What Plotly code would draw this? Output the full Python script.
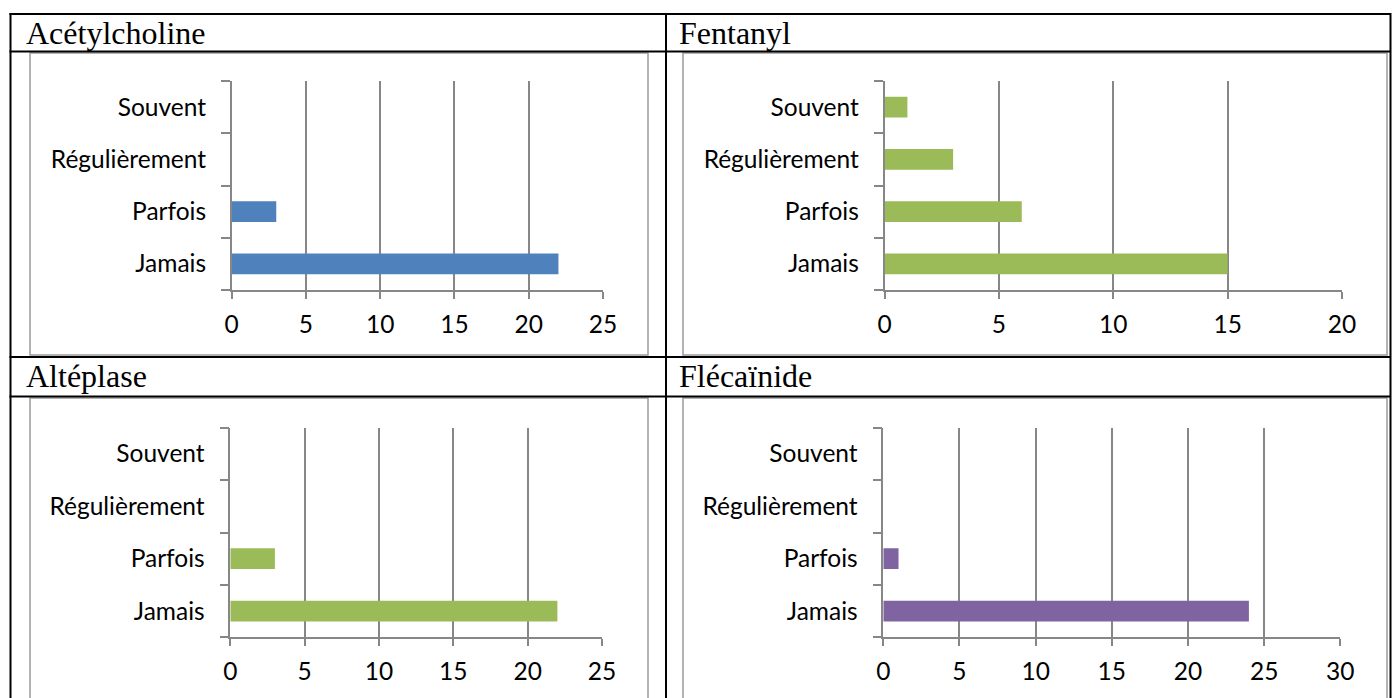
import plotly.graph_objects as go

# ---- data ----
categories = ["Jamais", "Parfois", "Régulièrement", "Souvent"]
acetylcholine = [22, 3, 0, 0]
fentanyl = [15, 6, 3, 1]
alteplase = [22, 3, 0, 0]
flecainide = [24, 1, 0, 0]
titles = ["Acétylcholine", "Fentanyl", "Altéplase", "Flécaïnide"]
x_max = [25, 20, 25, 30]
x_ticks = [list(range(0, m + 1, 5)) for m in x_max]
colors = ["#4F81BD", "#9BBB59", "#9BBB59", "#8064A2"]
series = [acetylcholine, fentanyl, alteplase, flecainide]

W, H = 1392, 698


def px(x):
    return x / W


def py(y):
    return 1 - y / H


# plot-area geometry (pixels)
dom_x = [(231.7, 603), (884.5, 1342), (230.3, 602), (883.3, 1340.3)]
dom_y = [(81, 290), (81, 290), (427.7, 637.3), (427.7, 637.3)]

fig = go.Figure()
GRID = "#878787"
tick_font = dict(family="Lato, 'Open Sans', sans-serif", size=24.5, color="#000000")

for i in range(4):
    n = "" if i == 0 else str(i + 1)
    fig.add_trace(go.Bar(
        x=series[i], y=categories, orientation="h",
        marker=dict(color=colors[i], line=dict(width=0)),
        xaxis="x" + n, yaxis="y" + n, showlegend=False,
        hoverinfo="x+y",
    ))
    fig.update_layout(**{
        "xaxis" + n: dict(
            domain=[px(dom_x[i][0]), px(dom_x[i][1])],
            anchor="y" + n, automargin=False,
            range=[0, x_max[i]], tickvals=x_ticks[i],
            showgrid=True, gridcolor=GRID, gridwidth=1.5,
            showline=True, linecolor=GRID, linewidth=1.5,
            ticks="outside", ticklen=7, tickcolor=GRID, tickwidth=1.5,
            zeroline=False, tickfont=tick_font, ticklabelstandoff=5,
            fixedrange=True,
        ),
        "yaxis" + n: dict(
            domain=[py(dom_y[i][1]), py(dom_y[i][0])],
            anchor="x" + n, automargin=False,
            type="category", categoryorder="array", categoryarray=categories,
            range=[-0.5, 3.5],
            showgrid=False, showline=True, linecolor=GRID, linewidth=1.5,
            ticks="outside", tickson="boundaries", ticklen=9,
            tickcolor=GRID, tickwidth=1.5,
            tickfont=tick_font, ticklabelstandoff=19,
            fixedrange=True,
        ),
    })

shapes = []
BLACK = "#000000"


def hline(y, x0, x1, color=BLACK, w=2):
    shapes.append(dict(type="line", xref="paper", yref="paper",
                       x0=px(x0), x1=px(x1), y0=py(y), y1=py(y),
                       line=dict(color=color, width=w)))


def vline(x, y0, y1, color=BLACK, w=2):
    shapes.append(dict(type="line", xref="paper", yref="paper",
                       x0=px(x), x1=px(x), y0=py(y0), y1=py(y1),
                       line=dict(color=color, width=w)))


def rect(x0, y0, x1, y1, color="#9a9a9a", w=1.5):
    shapes.append(dict(type="rect", xref="paper", yref="paper",
                       x0=px(x0), x1=px(x1), y0=py(y1), y1=py(y0),
                       line=dict(color=color, width=w), layer="below"))


# chart frames
rect(30, 53, 648, 355)
rect(683, 53, 1387, 355)
rect(30, 398, 648, 730)
rect(683, 398, 1387, 730)

# table grid
hline(14, 9.5, 1391)
hline(51.5, 9.5, 1391)
hline(357, 9.5, 1391)
hline(396.5, 9.5, 1391)
vline(10.5, 13, 700)
vline(666, 13, 700)
vline(1390.5, 13, 700)

annotations = []
title_pos = [(24, 33), (677, 33), (24, 376), (677, 376)]
for t, (x, y) in zip(titles, title_pos):
    annotations.append(dict(
        text=t, xref="paper", yref="paper", x=px(x), y=py(y),
        xanchor="left", yanchor="middle", showarrow=False,
        font=dict(family="'Liberation Serif', 'Times New Roman', serif",
                  size=32, color="#000000"),
    ))

fig.update_layout(
    width=W, height=H, autosize=False,
    margin=dict(l=0, r=0, t=0, b=0, pad=0),
    paper_bgcolor="white", plot_bgcolor="rgba(0,0,0,0)",
    bargap=0.605,
    shapes=shapes, annotations=annotations,
)

post = ("document.body.style.margin='0';"
        "document.body.style.padding='0';"
        "document.body.style.overflow='hidden';")

fig.write_html("out.html",
               config={"responsive": False, "displayModeBar": False},
               post_script=post)
